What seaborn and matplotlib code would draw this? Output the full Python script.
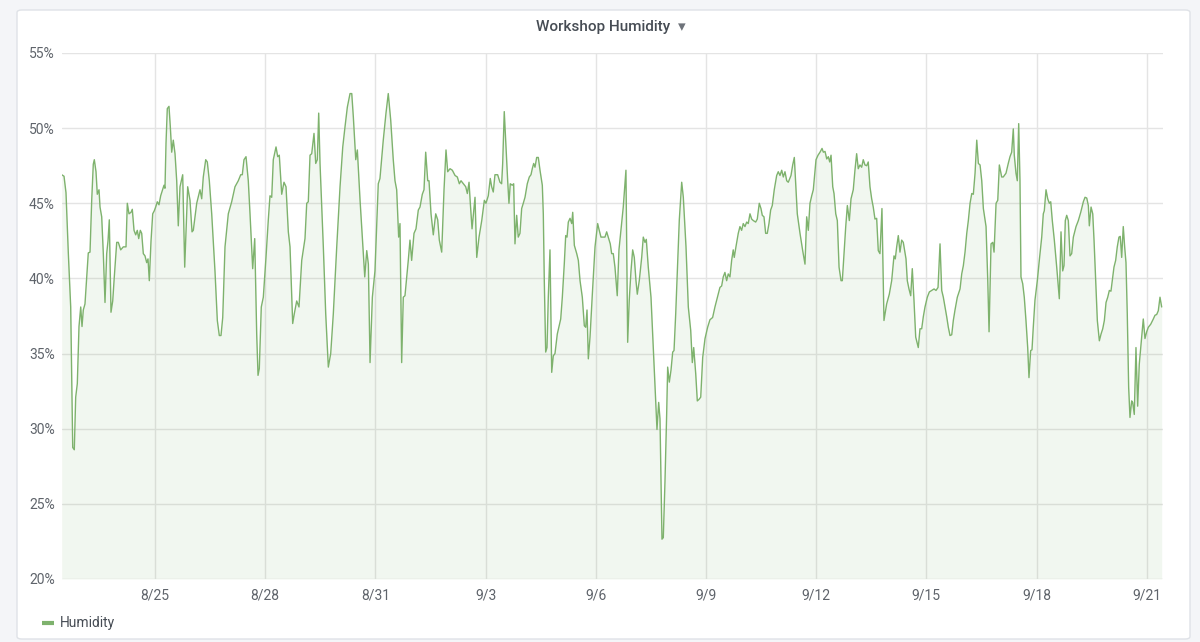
import pandas as pd
import numpy as np
import matplotlib
matplotlib.use('Agg')
import matplotlib.pyplot as plt
from matplotlib.patches import FancyBboxPatch
import seaborn as sns

# giorni dal 22/08 00:00 e umidità (%)
giorni = [0.46, 0.523, 0.577, 0.64, 0.705, 0.76, 0.803, 0.841, 0.885, 0.931, 0.978, 1.013, 1.048, 1.094, 1.184, 1.231,
          1.277, 1.32, 1.348, 1.394, 1.429, 1.476, 1.503, 1.549, 1.593, 1.639, 1.685, 1.721, 1.756, 1.802, 1.849, 1.892,
          1.958, 2.001, 2.066, 2.137, 2.211, 2.246, 2.292, 2.347, 2.382, 2.429, 2.475, 2.518, 2.557, 2.6, 2.638, 2.682,
          2.728, 2.774, 2.81, 2.845, 2.892, 2.938, 2.981, 3.019, 3.063, 3.109, 3.155, 3.199, 3.245, 3.272, 3.3, 3.335,
          3.381, 3.417, 3.455, 3.498, 3.545, 3.591, 3.634, 3.681, 3.754, 3.809, 3.89, 3.953, 4.008, 4.043, 4.136, 4.225,
          4.272, 4.315, 4.381, 4.424, 4.479, 4.544, 4.634, 4.697, 4.751, 4.797, 4.844, 4.906, 4.996, 5.088, 5.178, 5.268,
          5.334, 5.377, 5.423, 5.478, 5.54, 5.587, 5.66, 5.715, 5.769, 5.805, 5.84, 5.894, 5.949, 6.022, 6.085, 6.131,
          6.178, 6.221, 6.295, 6.341, 6.384, 6.45, 6.512, 6.567, 6.63, 6.676, 6.749, 6.793, 6.858, 6.921, 6.995, 7.084,
          7.131, 7.174, 7.221, 7.267, 7.329, 7.376, 7.419, 7.457, 7.493, 7.583, 7.648, 7.719, 7.784, 7.855, 7.948, 8.038,
          8.112, 8.174, 8.237, 8.31, 8.357, 8.4, 8.466, 8.509, 8.583, 8.645, 8.711, 8.765, 8.809, 8.855, 8.918, 8.989,
          9.079, 9.125, 9.215, 9.289, 9.351, 9.417, 9.487, 9.534, 9.58, 9.634, 9.67, 9.716, 9.76, 9.806, 9.896, 9.942,
          9.988, 10.052, 10.106, 10.169, 10.215, 10.278, 10.324, 10.37, 10.425, 10.46, 10.515, 10.577, 10.643, 10.697,
          10.741, 10.806, 10.869, 10.923, 10.969, 11.033, 11.095, 11.169, 11.231, 11.286, 11.332, 11.395, 11.46, 11.504,
          11.55, 11.585, 11.632, 11.713, 11.76, 11.822, 11.896, 11.967, 12.011, 12.074, 12.128, 12.166, 12.21, 12.256,
          12.329, 12.392, 12.438, 12.466, 12.509, 12.555, 12.602, 12.637, 12.673, 12.727, 12.765, 12.801, 12.847, 12.89,
          12.937, 12.983, 13.027, 13.074, 13.136, 13.191, 13.237, 13.272, 13.31, 13.346, 13.392, 13.436, 13.482, 13.545,
          13.572, 13.599, 13.637, 13.673, 13.708, 13.754, 13.801, 13.844, 13.89, 13.953, 14.046, 14.09, 14.144, 14.182,
          14.218, 14.253, 14.3, 14.346, 14.373, 14.417, 14.482, 14.526, 14.572, 14.634, 14.689, 14.727, 14.762, 14.798,
          14.844, 14.907, 14.98, 15.052, 15.095, 15.142, 15.204, 15.251, 15.297, 15.34, 15.395, 15.433, 15.477, 15.523,
          15.585, 15.632, 15.686, 15.749, 15.822, 15.869, 15.912, 15.958, 16.005, 16.049, 16.095, 16.131, 16.185, 16.251,
          16.294, 16.34, 16.376, 16.43, 16.504, 16.566, 16.613, 16.667, 16.713, 16.749, 16.776, 16.803, 16.839, 16.885,
          16.931, 16.958, 17.003, 17.049, 17.095, 17.131, 17.177, 17.231, 17.275, 17.34, 17.384, 17.457, 17.52, 17.585,
          17.629, 17.667, 17.722, 17.765, 17.811, 17.858, 17.912, 17.975, 18.046, 18.109, 18.182, 18.245, 18.291, 18.335,
          18.381, 18.428, 18.471, 18.517, 18.564, 18.607, 18.654, 18.7, 18.743, 18.771, 18.817, 18.88, 18.926, 18.972,
          19.016, 19.063, 19.109, 19.152, 19.199, 19.245, 19.289, 19.354, 19.398, 19.452, 19.498, 19.534, 19.58, 19.626,
          19.67, 19.716, 19.762, 19.806, 19.86, 19.926, 19.969, 20.016, 20.063, 20.106, 20.152, 20.199, 20.242, 20.316,
          20.362, 20.406, 20.452, 20.487, 20.561, 20.634, 20.697, 20.743, 20.787, 20.833, 20.88, 20.923, 20.997, 21.052,
          21.106, 21.161, 21.196, 21.242, 21.289, 21.332, 21.37, 21.406, 21.452, 21.487, 21.534, 21.577, 21.624, 21.678,
          21.713, 21.76, 21.806, 21.85, 21.904, 21.95, 22.011, 22.057, 22.103, 22.147, 22.193, 22.24, 22.283, 22.329,
          22.376, 22.419, 22.466, 22.512, 22.555, 22.602, 22.648, 22.692, 22.738, 22.792, 22.847, 22.92, 22.992, 23.057,
          23.12, 23.155, 23.193, 23.237, 23.283, 23.329, 23.373, 23.447, 23.482, 23.528, 23.575, 23.618, 23.664, 23.711,
          23.781, 23.828, 23.874, 23.918, 23.964, 24.027, 24.082, 24.147, 24.21, 24.264, 24.319, 24.373, 24.419, 24.463,
          24.509, 24.555, 24.599, 24.645, 24.692, 24.735, 24.781, 24.844, 24.918, 24.964, 25.008, 25.054, 25.101, 25.144,
          25.191, 25.237, 25.28, 25.327, 25.373, 25.417, 25.463, 25.509, 25.553, 25.626, 25.673, 25.708, 25.762, 25.809,
          25.844, 25.899, 25.945, 25.988, 26.052, 26.095, 26.169, 26.231, 26.278, 26.324, 26.368, 26.395, 26.441, 26.477,
          26.515, 26.55, 26.577, 26.624, 26.667, 26.713, 26.76, 26.795, 26.841, 26.877, 26.912, 26.958, 27.022, 27.076,
          27.142, 27.185, 27.212, 27.259, 27.305, 27.349, 27.387, 27.43, 27.485, 27.55, 27.594, 27.621, 27.667, 27.713,
          27.749, 27.784, 27.822, 27.866, 27.912, 27.958, 28.003, 28.076, 28.139, 28.204, 28.275, 28.321, 28.368, 28.411,
          28.438, 28.485, 28.531, 28.566, 28.621, 28.656, 28.711, 28.757, 28.803, 28.847, 28.893, 28.939, 28.983, 29.027,
          29.063, 29.109, 29.155, 29.199, 29.245, 29.28, 29.319, 29.362, 29.4, 29.436, 29.471, 29.509, 29.545, 29.591,
          29.618, 29.662, 29.708, 29.754, 29.798, 29.863, 29.907, 29.953, 30.0, 30.044, 30.109, 30.18, 30.226, 30.272,
          30.316, 30.362, 30.408]

umidita = [46.9, 46.8, 45.7, 41.7, 38.1, 28.75, 28.6, 32.1, 33.0, 36.8, 38.1, 36.8, 37.9, 38.3, 41.7, 41.75,
           45.2, 47.6, 47.9, 47.1, 45.6, 45.9, 44.75, 44.1, 41.65, 38.4, 41.65, 42.5, 43.9, 37.75, 38.5, 40.1,
           42.4, 42.4, 41.9, 42.1, 42.1, 45.0, 44.3, 44.4, 44.6, 43.2, 42.9, 43.2, 42.65, 43.2, 43.0, 41.65,
           41.5, 41.05, 41.3, 39.85, 42.5, 44.3, 44.5, 44.75, 45.1, 44.9, 45.5, 45.85, 46.2, 46.0, 49.0, 51.3,
           51.45, 50.1, 48.4, 49.2, 48.3, 46.5, 43.5, 46.1, 46.9, 40.75, 46.1, 45.2, 43.1, 43.2, 45.0, 45.9,
           45.3, 46.75, 47.9, 47.75, 46.5, 44.3, 40.45, 37.2, 36.2, 36.2, 37.4, 42.1, 44.3, 45.1, 46.1, 46.5,
           46.9, 46.9, 47.9, 48.1, 46.5, 44.3, 40.65, 42.65, 36.3, 33.55, 34.0, 38.1, 38.75, 41.4, 43.9, 45.5,
           45.4, 47.9, 48.75, 48.1, 48.2, 45.6, 46.4, 46.1, 43.1, 42.1, 37.0, 37.65, 38.5, 38.1, 41.2, 42.65,
           45.0, 45.1, 48.2, 48.3, 49.65, 47.65, 47.9, 51.0, 47.65, 42.1, 37.65, 34.1, 35.0, 37.65, 42.1, 46.1,
           48.75, 50.1, 51.4, 52.3, 52.3, 50.75, 47.9, 48.55, 45.2, 42.75, 40.1, 41.85, 40.95, 34.4, 38.75, 40.5,
           46.3, 46.65, 49.2, 51.0, 52.3, 50.55, 47.9, 46.5, 45.9, 42.75, 43.65, 34.4, 38.75, 38.85, 41.2, 42.55,
           41.2, 43.0, 43.3, 44.55, 44.75, 45.6, 45.9, 48.4, 46.5, 46.5, 44.3, 42.9, 44.3, 43.9,
           42.55, 41.75, 45.9, 48.55, 47.1, 47.3, 47.2, 46.85, 46.75, 46.3, 46.5, 46.3, 46.1, 45.65,
           46.4, 45.0, 43.3, 45.4, 41.4, 42.75, 43.85, 45.2, 45.0, 45.5, 46.65, 46.1, 45.75, 46.9,
           46.9, 46.4, 46.3, 47.65, 51.1, 48.75, 46.5, 45.0, 46.3, 46.2, 46.3, 42.3, 44.2, 42.75,
           43.0, 44.65, 45.0, 45.4, 46.3, 46.75, 46.9, 47.3, 47.65, 47.4, 48.05, 48.05, 47.2, 46.2,
           44.3, 39.85, 35.1, 35.4, 38.75, 41.9, 33.75, 34.85, 35.0, 36.3, 37.3, 38.75, 41.0, 42.85,
           42.75, 43.75, 44.0, 43.65, 44.4, 42.2, 41.65, 41.2, 39.85, 38.75, 36.85, 36.75, 37.9, 34.65,
           36.1, 38.95, 42.1, 43.65, 43.2, 42.75, 42.75, 42.75, 43.1, 42.75, 42.3, 41.65, 41.65, 40.75,
           38.85, 41.9, 43.2, 44.75, 47.2, 35.75, 38.55, 40.45, 41.9, 41.4, 39.85, 38.95, 39.85, 41.4,
           42.75, 42.4, 42.6, 40.75, 38.75, 35.4, 33.0, 29.95, 31.75, 30.65, 26.5, 22.65, 22.75, 26.5,
           31.0, 34.1, 33.1, 33.9, 35.1, 35.2, 37.65, 41.0, 43.9, 46.4, 45.4, 42.1, 38.1, 36.55,
           34.4, 35.4, 33.65, 31.85, 31.95, 32.1, 34.75, 36.0, 36.75, 37.25, 37.4, 38.1, 38.55, 38.95,
           39.4, 39.5, 40.1, 40.4, 39.85, 40.3, 40.1, 41.2, 41.9, 41.4, 42.1, 43.0, 43.45, 43.2,
           43.65, 43.45, 43.75, 43.65, 44.3, 43.95, 43.85, 43.75, 43.95, 45.0, 44.65, 44.2, 44.1, 43.0,
           43.0, 43.65, 44.55, 44.85, 45.9, 46.85, 47.1, 46.85, 47.2, 46.75, 47.1, 46.5, 46.4, 46.85,
           47.55, 48.05, 45.9, 44.3, 43.0, 41.85, 40.95, 44.1, 43.2, 45.0, 45.5, 45.9, 47.9, 48.2,
           48.4, 48.65, 48.4, 48.45, 47.95, 48.1, 47.75, 48.2, 46.1, 45.65, 44.3, 43.85, 40.75, 39.85,
           39.85, 41.65, 43.45, 44.85, 43.85, 45.3, 45.9, 47.2, 48.3, 47.3, 47.55, 47.4, 47.9, 47.55,
           47.5, 47.75, 46.1, 45.3, 44.75, 43.95, 44.0, 41.85, 41.65, 44.65, 37.2, 38.3, 38.95, 39.85,
           41.5, 41.3, 42.1, 42.85, 41.75, 42.55, 42.4, 41.3, 39.85, 39.3, 38.85, 40.65, 38.55, 36.1,
           35.4, 36.65, 36.65, 37.45, 38.1, 38.75, 39.1, 39.2, 39.3, 39.2, 39.4, 42.3, 39.2, 38.75,
           38.1, 37.45, 36.75, 36.2, 36.25, 37.2, 37.9, 38.75, 39.3, 40.3, 40.85, 41.75, 43.0, 43.85,
           45.0, 45.65, 45.6, 47.0, 49.2, 47.65, 47.55, 46.5, 44.65, 43.45, 39.85, 36.45, 42.3, 42.4,
           41.75, 45.0, 45.2, 47.55, 46.75, 46.75, 47.0, 47.65, 48.1, 48.4, 49.95, 48.2, 47.0, 46.5,
           50.3, 46.5, 40.1, 39.65, 38.75, 37.2, 35.4, 33.4, 35.2, 35.25, 36.75, 38.55, 39.85, 41.2,
           42.75, 44.3, 44.5, 45.9, 45.3, 45.0, 45.1, 43.85, 42.55, 40.75, 39.4, 38.65, 43.1, 40.5,
           40.85, 43.85, 44.2, 43.85, 41.5, 41.65, 42.75, 43.45, 43.85, 44.4, 45.1, 45.4, 45.35, 44.85,
           43.5, 44.75, 44.3, 42.55, 39.2, 37.2, 35.85, 36.3, 36.65, 37.2, 38.4, 38.75, 39.2, 39.15,
           39.85, 40.75, 41.2, 42.1, 42.75, 42.8, 41.4, 43.45, 42.1, 41.05, 37.65, 32.75, 30.75, 31.85,
           31.75, 30.95, 35.4, 31.5, 34.3, 36.1, 37.3, 36.0, 36.45, 36.75, 36.95, 37.3, 37.55, 37.6,
           37.85, 38.75, 38.1]

inizio = pd.Timestamp('2020-08-22')
limiti_giorni = [0.46, 30.452]
date_tick = pd.date_range('2020-08-25', '2020-09-21', freq='3D')
etichette_tick = [f'{d.month}/{d.day}' for d in date_tick]
valori_y = [20, 25, 30, 35, 40, 45, 50, 55]

df = pd.DataFrame({'Data': inizio + pd.to_timedelta(giorni, unit='D'), 'Umidita': umidita})

verde = '#7eb26d'
testo = '#464c54'
grigio = '#5f646b'

sns.set_style('white')
plt.rcParams['font.family'] = ['Roboto', 'DejaVu Sans']

fig = plt.figure(figsize=(12, 6.42), dpi=100)
fig.patch.set_facecolor('#f4f5f8')
# pannello bianco stile dashboard
pannello = FancyBboxPatch((17 / 1200, 1 - 639 / 642), 1173 / 1200, 629 / 642,
                          boxstyle='round,pad=0,rounding_size=0.004', transform=fig.transFigure,
                          facecolor='white', edgecolor='#dfe2e7', linewidth=1.0, zorder=-5)
fig.patches.append(pannello)

ax = fig.add_axes([61.7 / 1200, 1 - 579 / 642, (1163.3 - 61.7) / 1200, (579 - 53) / 642])
ax.set_zorder(2)
ax.set_facecolor('none')

sns.lineplot(data=df, x='Data', y='Umidita', ax=ax, color=verde, linewidth=1.0, zorder=3)
ax.fill_between(df['Data'], df['Umidita'], 20, color=verde, alpha=0.1, linewidth=0, zorder=2)

ax.set_xlim(inizio + pd.Timedelta(days=limiti_giorni[0]), inizio + pd.Timedelta(days=limiti_giorni[1]))
ax.set_ylim(20, 55)
ax.set_xticks(date_tick)
ax.set_xticklabels(etichette_tick)
ax.set_yticks(valori_y)
ax.set_yticklabels([f'{v}%' for v in valori_y])
ax.tick_params(axis='both', length=0, labelsize=10, labelcolor=grigio)
ax.tick_params(axis='x', pad=7)
ax.tick_params(axis='y', pad=5)
ax.grid(True, color='#e4e4e4', linewidth=1.0, zorder=1)
ax.set_axisbelow(True)
for s in ax.spines.values():
    s.set_visible(False)
ax.set_xlabel('')
ax.set_ylabel('')

# titolo del pannello con freccia
fig.text(0.5025, 1 - 27 / 642, 'Workshop Humidity', ha='center', va='center',
         fontsize=11, color=testo, fontweight='medium')
fig.text(682 / 1200, 1 - 27 / 642, '▾', ha='center', va='center', fontsize=11,
         color='#6e737a', family=['DejaVu Sans'])

# legenda
fig.add_artist(plt.Line2D([42 / 1200, 54 / 1200], [1 - 623 / 642, 1 - 623 / 642],
                          color=verde, linewidth=3, solid_capstyle='butt'))
fig.text(60 / 1200, 1 - 623 / 642, 'Humidity', ha='left', va='center', fontsize=10, color=testo)

plt.savefig('out.png', dpi=100, facecolor=fig.get_facecolor())
